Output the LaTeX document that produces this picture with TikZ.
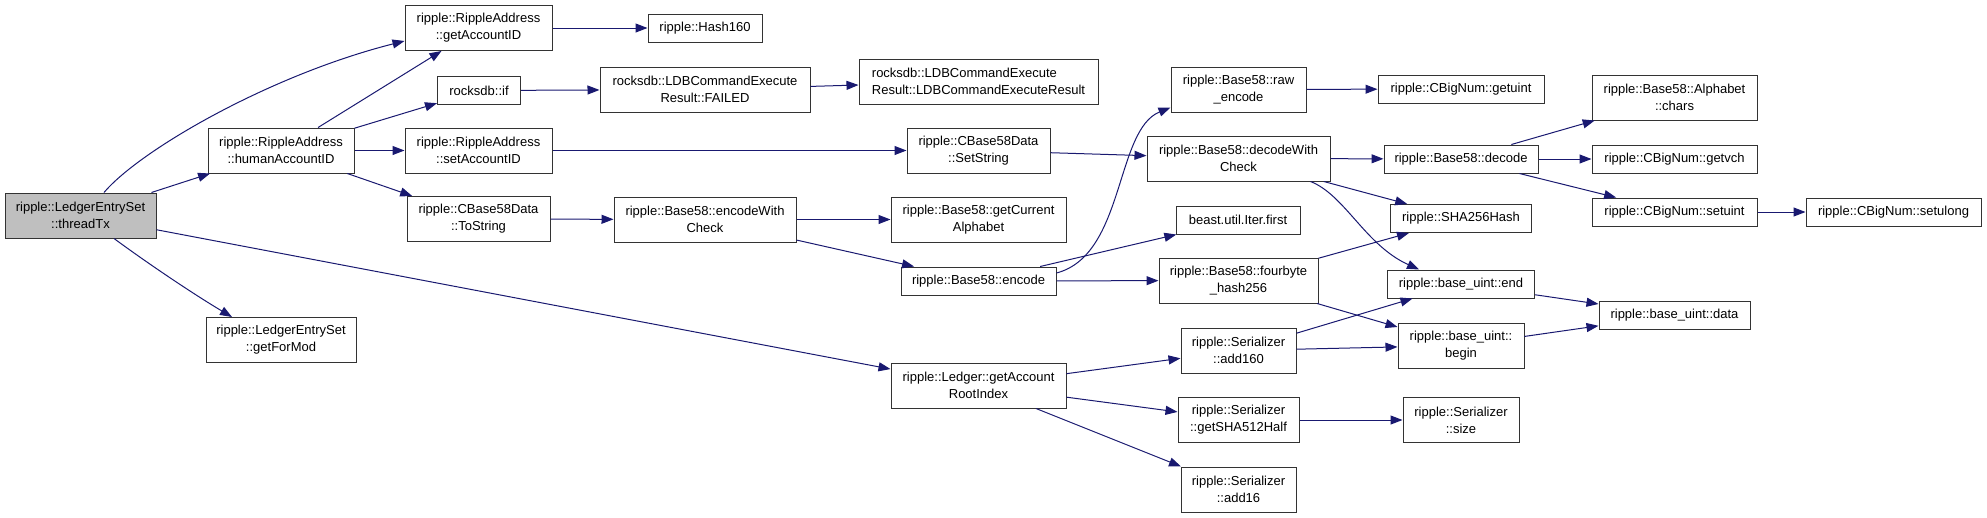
\documentclass[tikz,border=0pt]{standalone}
\usepackage{fontspec}
\setmainfont{Liberation Sans}
\usetikzlibrary{arrows.meta}
\definecolor{edgeblue}{HTML}{191970}
\definecolor{nodegray}{HTML}{BFBFBF}
\begin{document}
\begin{tikzpicture}[x=1pt,y=-1pt,
fn/.style={draw=black!80,line width=1pt,inner sep=0pt,minimum height=28pt,align=center,font=\fontsize{13}{17}\selectfont},
fntwo/.style={fn,minimum height=45pt},
call/.style={draw=edgeblue,line width=1pt,-{Triangle[length=12pt,width=9pt]}}]
\useasboundingbox (0,0) rectangle (1987,517);
\node[fntwo,fill=nodegray,minimum width=151pt] (thr) at (80.5,215.5) {ripple::LedgerEntrySet\\::threadTx};
\node[fntwo,minimum width=147pt] (gaid) at (478.5,28) {ripple::RippleAddress\\::getAccountID};
\node[fntwo,minimum width=146pt] (hum) at (281,150.5) {ripple::RippleAddress\\::humanAccountID};
\node[fntwo,minimum width=150pt] (gfm) at (281,340) {ripple::LedgerEntrySet\\::getForMod};
\node[fn,minimum width=83pt] (rif) at (479,90.5) {rocksdb::if};
\node[fntwo,minimum width=147pt] (sai) at (478.5,150.5) {ripple::RippleAddress\\::setAccountID};
\node[fntwo,minimum width=143pt] (tostr) at (478.5,219) {ripple::CBase58Data\\::ToString};
\node[fn,minimum width=114pt] (h160) at (705,28) {ripple::Hash160};
\node[fntwo,minimum width=210pt] (failed) at (705,89.5) {rocksdb::LDBCommandExecute\\Result::FAILED};
\node[fntwo,minimum width=239pt,align=left] (ldbres) at (978.5,81.5) {rocksdb::LDBCommandExecute\\Result::LDBCommandExecuteResult};
\node[fntwo,minimum width=143pt] (setstr) at (978.5,150.5) {ripple::CBase58Data\\::SetString};
\node[fntwo,minimum width=182pt] (ewc) at (705,219.5) {ripple::Base58::encodeWith\\Check};
\node[fntwo,minimum width=175pt] (gca) at (978.5,219.5) {ripple::Base58::getCurrent\\Alphabet};
\node[fn,minimum width=155pt] (enc) at (978.5,281) {ripple::Base58::encode};
\node[fntwo,minimum width=175pt] (gari) at (978.5,385.5) {ripple::Ledger::getAccount\\RootIndex};
\node[fntwo,minimum width=135pt] (raw) at (1238.5,89.5) {ripple::Base58::raw\\\_encode};
\node[fn,minimum width=166pt] (getuint) at (1461,89) {ripple::CBigNum::getuint};
\node[fntwo,minimum width=183pt] (dwc) at (1238.5,158.5) {ripple::Base58::decodeWith\\Check};
\node[fn,minimum width=154pt] (dec) at (1461,159) {ripple::Base58::decode};
\node[fn,minimum width=124pt] (first) at (1238,220) {beast.util.Iter.first};
\node[fn,minimum width=141pt] (sha) at (1461,218.5) {ripple::SHA256Hash};
\node[fntwo,minimum width=159pt] (fbh) at (1238.5,280.5) {ripple::Base58::fourbyte\\\_hash256};
\node[fn,minimum width=147pt] (uend) at (1461,284) {ripple::base\_uint::end};
\node[fntwo,minimum width=115pt] (add160) at (1238.5,350.5) {ripple::Serializer\\::add160};
\node[fntwo,minimum width=126pt] (ubegin) at (1461,345.5) {ripple::base\_uint::\\begin};
\node[fntwo,minimum width=121pt] (sha512) at (1238.5,420) {ripple::Serializer\\::getSHA512Half};
\node[fntwo,minimum width=116pt] (ssize) at (1461,420) {ripple::Serializer\\::size};
\node[fntwo,minimum width=115pt] (add16) at (1238.5,489.5) {ripple::Serializer\\::add16};
\node[fntwo,minimum width=165pt] (chars) at (1674.5,97.5) {ripple::Base58::Alphabet\\::chars};
\node[fn,minimum width=165pt] (getvch) at (1674.5,159) {ripple::CBigNum::getvch};
\node[fn,minimum width=165pt] (setuint) at (1674.5,212) {ripple::CBigNum::setuint};
\node[fn,minimum width=175pt] (setulong) at (1893.5,212) {ripple::CBigNum::setulong};
\node[fn,minimum width=151pt] (udata) at (1674.5,315) {ripple::base\_uint::data};
\draw[call] ([xshift=23.5pt]thr.north) .. controls (140,150) and (270,75) .. ([yshift=-13pt]gaid.west);
\draw[call] (thr) -- (hum);
\draw[call] ([xshift=33.5pt]thr.south) .. controls (150,265) and (195,295) .. ([xshift=-49pt]gfm.north);
\draw[call] (thr) -- (gari);
\draw[call] (hum) -- (gaid);
\draw[call] (hum) -- (rif);
\draw[call] (hum) -- (sai);
\draw[call] (hum) -- (tostr);
\draw[call] (gaid) -- (h160);
\draw[call] (rif) -- (failed);
\draw[call] (failed) -- (ldbres);
\draw[call] (sai) -- (setstr);
\draw[call] (tostr) -- (ewc);
\draw[call] (setstr) -- (dwc);
\draw[call] (ewc) -- (gca);
\draw[call] (ewc) -- (enc);
\draw[call] ([yshift=8pt]enc.east) .. controls (1125,255) and (1115,130) .. ([yshift=5pt]raw.south west);
\draw[call] (enc) -- (first);
\draw[call] (enc) -- (fbh);
\draw[call] (raw) -- (getuint);
\draw[call] (dwc) -- (dec);
\draw[call] (dwc) -- (sha);
\draw[call] ([xshift=-20pt]dwc.south east) .. controls (1345,195) and (1365,245) .. ([xshift=-42pt]uend.north);
\draw[call] (fbh) -- (sha);
\draw[call] (fbh) -- (ubegin);
\draw[call] (dec) -- (chars);
\draw[call] (dec) -- (getvch);
\draw[call] (dec) -- (setuint);
\draw[call] (setuint) -- (setulong);
\draw[call] (uend) -- (udata);
\draw[call] (ubegin) -- (udata);
\draw[call] (gari) -- (add160);
\draw[call] (gari) -- (sha512);
\draw[call] (gari) -- (add16);
\draw[call] (add160) -- (uend);
\draw[call] (add160) -- (ubegin);
\draw[call] (sha512) -- (ssize);
\end{tikzpicture}
\end{document}
